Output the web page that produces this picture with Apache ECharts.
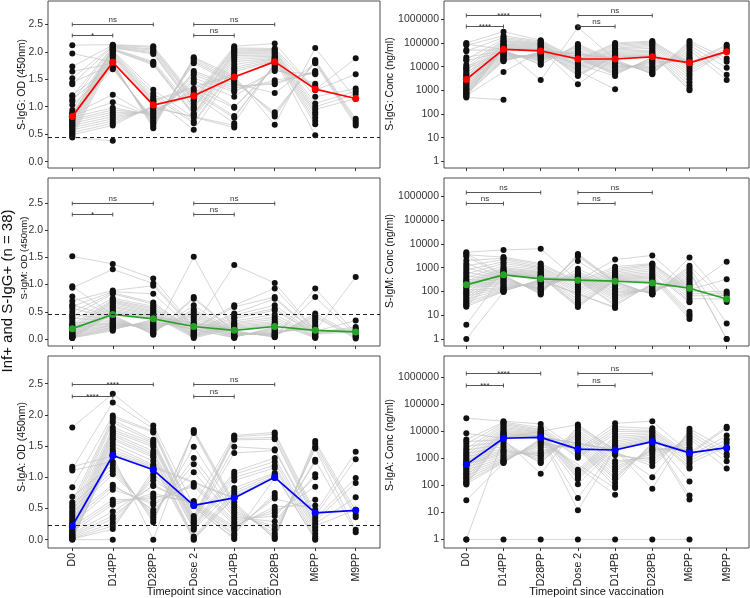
<!DOCTYPE html>
<html><head><meta charset="utf-8">
<script src="https://cdn.jsdelivr.net/npm/echarts@6/dist/echarts.min.js"></script>
<style>html,body{margin:0;padding:0;background:#fff}#c{width:750px;height:598px}</style>
</head><body><div id="c"></div>
<script>
// ---------------- DATA ----------------
const timepoints = ['D0','D14PP','D28PP','Dose 2','D14PB','D28PB','M6PP','M9PP'];
const odTicks = [0, 0.5, 1, 1.5, 2, 2.5];
const concTicks = [1, 10, 100, 1000, 10000, 100000, 1000000];
const sigPairs = [[0,1],[0,2],[3,4],[3,5]];
const odSigY = [2.3, 2.5, 2.3, 2.5];
const concSigY = [520000, 1500000, 520000, 1500000];

// each array below: one inner array per timepoint, values in subject order (null = missing)
const iggOD = [
 [2.12,1.97,1.73,1.64,1.52,1.44,1.41,1.21,1.19,1.13,1.10,1.03,0.94,0.89,0.87,0.86,0.85,0.84,0.83,0.81,0.79,0.77,0.76,0.74,0.72,0.70,0.68,0.66,0.65,0.62,0.60,0.58,0.56,0.53,0.51,0.49,0.46,0.44],
 [2.13,1.81,2.12,1.79,2.11,1.77,2.10,1.75,2.09,1.73,2.08,1.71,2.07,1.68,2.06,1.22,2.05,1.08,2.04,0.98,2.03,0.94,2.02,0.90,2.00,0.86,1.98,0.82,1.96,0.78,1.94,0.74,1.92,0.70,1.89,0.66,1.85,0.38],
 [2.10,0.61,2.08,0.64,2.05,0.67,2.03,0.70,2.00,0.72,1.98,0.75,1.96,0.78,1.82,0.80,1.80,0.82,1.78,0.85,1.76,0.87,1.31,0.89,1.24,0.91,1.19,0.93,1.15,0.96,1.12,0.98,1.10,1.00,1.08,1.02,1.06],
 [1.19,1.90,1.15,1.88,1.12,1.85,1.10,1.82,1.05,1.79,1.00,1.65,0.98,1.62,0.95,1.58,0.88,1.52,0.86,1.47,0.84,1.43,0.80,1.33,0.73,1.29,0.70,1.25,0.58,1.21],
 [2.10,1.56,2.07,1.52,2.05,1.48,2.03,1.45,2.00,1.42,1.98,1.38,1.96,1.34,1.93,1.30,1.90,1.27,1.86,1.18,1.82,1.00,1.77,0.98,1.72,0.83,1.68,0.80,1.64,0.70,1.60,0.66,1.57,0.62],
 [2.15,0.67,2.06,0.82,2.04,0.86,2.02,0.90,2.00,1.25,1.98,1.41,1.96,1.44,1.94,1.48,1.92,1.65,1.90,1.68,1.88,1.71,1.87,1.74,1.86,1.76,1.84,1.78,1.83,1.80],
 [1.31,2.07,1.30,1.85,1.18,1.83,1.06,1.81,1.00,1.79,0.95,1.65,0.90,1.63,0.86,1.61,0.80,1.59,0.74,1.42,0.68,1.38,0.48,1.34],
 [1.88,1.14,1.59,0.78,1.33,0.74,1.28,0.70,1.23,0.66,1.15]
];
const iggOD_median = [0.82,1.81,1.03,1.20,1.54,1.82,1.32,1.15];
const iggOD_cutoff = 0.44;
const iggOD_sig = ['*','ns','ns','ns'];

const igmOD = [
 [1.52,0.97,0.94,0.78,0.70,0.63,0.60,0.56,0.50,0.45,0.42,0.38,0.34,0.30,0.27,0.25,0.23,0.21,0.20,0.19,0.18,0.16,0.15,0.13,0.12,0.11,0.10,0.09,0.08,0.07,0.06,0.05,0.05,0.04,0.03,0.03,0.02,0.02],
 [1.38,0.44,1.28,0.42,0.89,0.40,0.87,0.38,0.85,0.36,0.83,0.34,0.75,0.32,0.72,0.30,0.70,0.29,0.68,0.28,0.66,0.26,0.63,0.25,0.60,0.24,0.58,0.22,0.55,0.21,0.52,0.20,0.50,0.18,0.48,0.17,0.46,0.15],
 [1.11,0.08,1.02,0.09,0.98,0.10,0.83,0.12,0.67,0.13,0.64,0.15,0.60,0.17,0.57,0.18,0.55,0.20,0.52,0.22,0.50,0.23,0.48,0.25,0.46,0.27,0.44,0.28,0.42,0.30,0.41,0.32,0.40,0.34,0.39,0.36,0.38],
 [0.22,1.51,0.20,0.77,0.18,0.74,0.16,0.62,0.14,0.55,0.13,0.52,0.12,0.48,0.10,0.45,0.09,0.42,0.08,0.38,0.07,0.34,0.06,0.30,0.05,0.28,0.04,0.26,0.02,0.24],
 [1.36,0.15,0.62,0.14,0.59,0.13,0.47,0.12,0.44,0.11,0.40,0.10,0.37,0.09,0.33,0.08,0.30,0.07,0.28,0.07,0.26,0.06,0.24,0.05,0.22,0.05,0.20,0.04,0.19,0.03,0.18,0.03,0.17,0.02],
 [1.03,0.03,0.93,0.04,0.77,0.05,0.74,0.06,0.62,0.07,0.56,0.08,0.53,0.09,0.45,0.10,0.40,0.11,0.36,0.12,0.32,0.14,0.29,0.16,0.27,0.18,0.25,0.20,0.24,0.22],
 [0.15,0.93,0.14,0.77,0.12,0.47,0.11,0.43,0.10,0.40,0.09,0.36,0.08,0.32,0.06,0.28,0.05,0.24,0.04,0.20,0.03,0.18,0.02,0.17],
 [1.14,0.10,0.34,0.07,0.22,0.05,0.19,0.03,0.16,0.01,0.13]
];
const igmOD_median = [0.19,0.45,0.37,0.23,0.16,0.23,0.16,0.13];
const igmOD_cutoff = 0.46;
const igmOD_sig = ['*','ns','ns','ns'];

const igaOD = [
 [1.80,1.17,1.14,1.11,0.84,0.69,0.60,0.56,0.53,0.50,0.46,0.43,0.40,0.37,0.34,0.31,0.28,0.26,0.24,0.21,0.19,0.17,0.15,0.13,0.12,0.10,0.09,0.08,0.07,0.06,0.05,0.04,0.03,0.02,0.02,0.01,0.01,0.00],
 [2.34,1.34,2.20,1.25,1.99,1.20,1.96,1.15,1.92,1.10,1.88,1.05,1.80,0.88,1.76,0.85,1.73,0.80,1.70,0.64,1.67,0.60,1.63,0.56,1.60,0.45,1.55,0.38,1.50,0.33,1.45,0.27,1.41,0.22,1.38,0.17,1.36,0.00],
 [1.83,0.00,1.78,0.28,1.74,0.32,1.72,0.36,1.60,0.40,1.57,0.44,1.55,0.48,1.52,0.56,1.49,0.60,1.42,0.66,1.38,0.70,1.35,0.74,1.32,0.86,1.26,0.88,1.20,0.95,1.18,1.00,1.16,1.05,1.14,1.11,1.13],
 [0.54,1.76,0.38,1.74,0.35,1.71,0.32,1.49,0.30,1.31,0.28,1.21,0.26,1.08,0.23,0.91,0.21,0.88,0.18,0.85,0.16,0.62,0.05,0.59,0.03,0.57,0.01,0.56,0.00,0.55],
 [1.67,0.60,1.65,0.56,1.62,0.52,1.60,0.48,1.49,0.44,1.39,0.40,1.09,0.36,1.05,0.32,1.00,0.28,0.95,0.24,0.83,0.21,0.78,0.18,0.74,0.15,0.70,0.10,0.68,0.07,0.67,0.03,0.66,0.01],
 [1.72,0.01,1.69,0.03,1.64,0.06,1.61,0.10,1.45,0.16,1.43,0.22,1.31,0.29,1.25,0.38,1.19,0.43,1.15,0.48,1.07,0.53,1.05,0.66,1.02,0.70,1.01,0.75,1.00,0.99],
 [0.43,1.58,0.38,1.54,0.34,1.49,0.30,1.46,0.26,1.28,0.22,1.25,0.19,1.05,0.15,1.00,0.10,0.85,0.05,0.64,0.02,0.55,0.00,0.48],
 [1.41,0.46,1.29,0.40,0.99,0.36,0.91,0.16,0.68,0.12,0.48]
];
const igaOD_median = [0.22,1.35,1.12,0.55,0.67,1.00,0.43,0.47];
const igaOD_cutoff = 0.23;
const igaOD_sig = ['****','****','ns','ns'];

const iggConc = [
 [1e5,9e4,8e4,5e4,4.5e4,2.5e4,2e4,1.8e4,1.2e4,1e4,9e3,8e3,7e3,6e3,5e3,4.5e3,4e3,3.5e3,3.1e3,2.8e3,2.5e3,2.2e3,2e3,1.8e3,1.6e3,1.5e3,1.3e3,1.2e3,1.1e3,1e3,900,800,750,700,650,600,550,500],
 [3e5,5.3e4,2e5,5e4,1.7e5,4.6e4,1.5e5,4.2e4,1.3e5,4e4,1.2e5,3.7e4,1.1e5,3.5e4,1e5,3.2e4,9e4,3e4,8.5e4,2.8e4,8e4,2.6e4,7.5e4,2.4e4,7e4,2.2e4,6.5e4,2e4,6.2e4,1.9e4,6e4,1.8e4,5.8e4,1.7e4,5.6e4,6e3,5.5e4,400],
 [1.3e5,2.7e3,1.2e5,1.2e4,1.1e5,1.3e4,1e5,1.6e4,9.5e4,1.8e4,9e4,2e4,8.5e4,2.2e4,8e4,2.4e4,7.5e4,2.6e4,7e4,2.8e4,6.5e4,3e4,6e4,3.2e4,5.7e4,3.4e4,5.4e4,3.6e4,5.2e4,3.8e4,5e4,4e4,4.9e4,4.2e4,4.8e4,4.4e4,4.6e4],
 [2e4,4.6e5,1.8e4,9e4,1.6e4,8e4,1.4e4,7e4,1.2e4,6e4,1.1e4,5e4,1e4,4.5e4,9e3,4e4,8e3,3.5e4,7e3,3e4,6e3,2.8e4,5e3,2.6e4,4.5e3,2.4e4,4e3,2.3e4,1.8e3,2.2e4],
 [1e5,2e4,9e4,1.8e4,8e4,1.6e4,7e4,1.5e4,6e4,1.4e4,5.5e4,1.2e4,5e4,1.1e4,4.5e4,1e4,4e4,9e3,3.6e4,8e3,3.3e4,7e3,3e4,6e3,2.8e4,5.5e3,2.6e4,5e3,2.4e4,4.5e3,2.3e4,4e3,2.2e4,1.1e3],
 [1.2e5,4.8e3,1.1e5,5e3,1e5,5.5e3,9e4,6e3,8e4,7e3,7e4,8e3,6e4,9e3,5e4,1e4,4.5e4,1.2e4,4e4,1.4e4,3.5e4,1.6e4,3.2e4,1.8e4,3e4,2e4,2.8e4,2.3e4,2.7e4,2.5e4],
 [1.4e4,1.2e5,1.2e4,1e5,1e4,8e4,8e3,6.5e4,6.5e3,5e4,5e3,4e4,4e3,3.2e4,3e3,2.6e4,2.2e3,2.2e4,1.6e3,1.9e4,1.2e3,1.7e4,1e3,1.55e4],
 [8.5e4,2.2e4,7.5e4,1.6e4,6e4,9e3,5e4,4.5e3,4.5e4,2.7e3,4.3e4]
];
const iggConc_median = [2900,54000,46000,21000,21000,26000,14500,43000];
const iggConc_sig = ['****','****','ns','ns'];

const igmConc = [
 [4500,4000,3500,3000,2000,1500,1200,1000,800,650,550,450,380,320,280,250,230,210,200,185,170,150,130,110,95,85,75,65,55,48,42,36,32,28,25,23,4,1],
 [5600,490,2800,460,2500,420,2200,380,1800,340,1500,300,1200,270,1000,240,900,210,800,190,750,170,700,150,650,140,600,130,580,120,560,110,540,105,520,100,510,95],
 [6300,75,1500,80,1300,90,1100,100,1000,110,900,120,800,130,700,140,650,150,600,170,550,190,500,210,470,230,440,250,420,270,400,290,380,310,360,330,350],
 [290,3800,270,3400,240,3000,200,1900,170,900,140,700,120,600,100,520,80,480,60,440,45,400,35,370,28,340,25,320,22,310],
 [2200,265,1100,250,900,230,750,200,650,170,560,140,500,120,450,100,420,85,390,70,360,60,340,50,320,40,300,30,290,25,280,22,275,20],
 [3300,75,1500,76,1400,78,1300,80,1100,85,900,90,750,95,620,100,520,110,450,125,400,140,350,160,300,180,270,200,250,220],
 [140,2700,120,1200,100,1000,80,800,65,650,50,520,40,420,35,350,14,290,11,240,9,200,7,165],
 [1800,44,330,36,100,4.5,85,1,70,1,48]
];
const igmConc_median = [190,500,340,300,270,230,137,48];
const igmConc_sig = ['ns','ns','ns','ns'];

const igaConc = [
 [31000,8500,5000,4200,3500,2800,2300,2000,1700,1500,1300,1150,1000,900,800,720,660,620,600,580,540,480,420,370,330,290,260,230,200,180,160,140,125,115,108,28,1,1],
 [24000,5600,22000,5000,20000,4200,18000,3500,16000,2800,14000,2300,12500,2000,11000,1800,10000,1600,9200,1400,8500,1200,8000,1050,7500,950,7000,850,6600,800,6300,750,6100,700,5900,680,5800,1],
 [19000,null,14000,270,12000,680,11000,700,10000,850,9500,1000,9000,1200,8500,1300,8000,1500,7500,1700,7000,2000,6800,2500,6600,3000,6400,3500,6300,4000,6200,4500,6150,5000,6100,5500,6000,1],
 [2100,18000,1800,16000,1500,14000,1200,11000,1050,9000,380,8000,320,7000,280,6000,240,5000,200,4000,170,3500,110,3000,34,2600,12,2400,null,2200,null,null,null,null,null,null,null,1],
 [20000,1980,15000,1900,12000,1700,10000,1500,8000,1300,6500,800,5500,650,4500,500,3800,400,3200,330,2800,250,2500,200,2300,170,2200,125,2100,95,2050,80,2020,45,null,null,null,1],
 [24000,75,13000,200,11000,520,10000,700,9000,900,8000,1100,7000,1400,6500,1700,6000,2000,5500,2200,5000,2500,4700,3000,4500,3500,4300,4000,4200,null,null,null,null,null,null,null,null,1],
 [1600,12500,1400,10000,1200,8000,1000,6500,800,5500,650,4500,500,3800,420,3200,140,2600,42,2200,30,2000,1800,null,null,null,null,null,null,null,null,null,null,null,null,null,null,1],
 [15000,2200,13000,1500,7000,1200,5000,780,3800,420,2700]
];
const igaConc_median = [590,5600,6000,2200,2050,4200,1600,2500];
const igaConc_sig = ['***','****','ns','ns'];

// ---------------- LAYOUT / STYLE ----------------
const FONT = '"Liberation Sans", Arial, Helvetica, sans-serif';
const L = {left:48, width:332}, R = {left:444, width:305};
const rows = [{top:1, height:167}, {top:178, height:168}, {top:356, height:192}];
const panels = [
 {vals:iggOD, med:iggOD_median, sig:iggOD_sig, sigY:odSigY, log:false, cut:iggOD_cutoff, color:'#ff0000', ext:[-0.115,2.924], col:L, row:0, title:'S-IgG: OD (450nm)', tx:22, ty:84.5, tfs:10.5},
 {vals:igmOD, med:igmOD_median, sig:igmOD_sig, sigY:odSigY, log:false, cut:igmOD_cutoff, color:'#27a127', ext:[-0.129,2.96], col:L, row:1, title:'S-IgM: OD (450nm)', tx:24, ty:258, tfs:9.5},
 {vals:igaOD, med:igaOD_median, sig:igaOD_sig, sigY:odSigY, log:false, cut:igaOD_cutoff, color:'#0000ff', ext:[-0.133,2.944], col:L, row:2, title:'S-IgA: OD (450nm)', tx:22, ty:447, tfs:10.5},
 {vals:iggConc, med:iggConc_median, sig:iggConc_sig, sigY:concSigY, log:true, color:'#ff0000', ext:[-0.278,6.771], col:R, row:0, title:'S-IgG: Conc (ng/ml)', tx:390, ty:84, tfs:10.5},
 {vals:igmConc, med:igmConc_median, sig:igmConc_sig, sigY:concSigY, log:true, color:'#27a127', ext:[-0.295,6.776], col:R, row:1, title:'S-IgM: Conc (ng/ml)', tx:390, ty:261, tfs:10.5},
 {vals:igaConc, med:igaConc_median, sig:igaConc_sig, sigY:concSigY, log:true, color:'#0000ff', ext:[-0.319,6.795], col:R, row:2, title:'S-IgA: Conc (ng/ml)', tx:390, ty:445, tfs:10.5}
];

const grids = [], xAxes = [], yAxes = [], series = [], graphics = [];
const tickIdx = timepoints.map((_, i) => i);

panels.forEach((p, pi) => {
  const tf = p.log ? (v => Math.log10(v)) : (v => v);
  grids.push({left:p.col.left, width:p.col.width, top:rows[p.row].top, height:rows[p.row].height,
    show:true, borderColor:'#4d4d4d', borderWidth:1, backgroundColor:'transparent', containLabel:false});
  xAxes.push({type:'value', gridIndex:pi, min:-0.6, max:7.6, position:'bottom',
    axisLine:{show:false, onZero:false}, splitLine:{show:false},
    axisTick:{show:true, length:3, customValues:tickIdx, lineStyle:{color:'#333', width:1}},
    axisLabel:{show:p.row===2, customValues:tickIdx, rotate:90, margin:5, fontSize:10.5, color:'#1a1a1a', fontFamily:FONT,
      formatter:v => timepoints[Math.round(v)]}});
  const yt = p.log ? concTicks.map(v => Math.log10(v)) : odTicks;
  yAxes.push({type:'value', gridIndex:pi, min:p.ext[0], max:p.ext[1], position:'left',
    axisLine:{show:false, onZero:false}, splitLine:{show:false},
    axisTick:{show:true, length:3, customValues:yt, lineStyle:{color:'#333', width:1}},
    axisLabel:{customValues:yt, margin:5, fontSize:10.5, color:'#333', fontFamily:FONT,
      formatter: p.log ? (v => String(Math.round(Math.pow(10, v)))) : (v => Number(v).toFixed(1))}});

  // subject lines
  const nSub = Math.max(...p.vals.map(a => a.length));
  for (let s = 0; s < nSub; s++) {
    const d = [];
    p.vals.forEach((arr, t) => { const v = arr[s]; if (v !== null && v !== undefined) d.push([t, tf(v)]); });
    if (d.length > 1) series.push({type:'line', xAxisIndex:pi, yAxisIndex:pi, data:d, symbol:'none', silent:true,
      animation:false, z:1, lineStyle:{color:'#c4c4c4', width:0.7}});
  }
  // dots
  const pts = [];
  p.vals.forEach((arr, t) => arr.forEach(v => { if (v !== null && v !== undefined) pts.push([t, tf(v)]); }));
  const sc = {type:'scatter', xAxisIndex:pi, yAxisIndex:pi, data:pts, symbolSize:6, silent:true, animation:false, z:2,
    itemStyle:{color:'#111', opacity:1}};
  if (!p.log) sc.markLine = {silent:true, symbol:'none', animation:false, label:{show:false},
    lineStyle:{color:'#222', type:[4,3], width:1}, data:[{yAxis:p.cut}]};
  series.push(sc);
  // median
  series.push({type:'line', xAxisIndex:pi, yAxisIndex:pi, data:p.med.map((v, t) => [t, tf(v)]), symbol:'circle',
    symbolSize:7, silent:true, animation:false, z:3, itemStyle:{color:p.color}, lineStyle:{color:p.color, width:1.7}});
  // significance brackets
  const labels = p.sig;
  series.push({type:'custom', xAxisIndex:pi, yAxisIndex:pi, silent:true, animation:false, clip:false, z:4,
    data:sigPairs.map((pr, k) => [pr[0], pr[1], tf(p.sigY[k]), k]),
    encode:{x:[0,1], y:2},
    renderItem:(params, api) => {
      const y = api.value(2), k = api.value(3);
      const a = api.coord([api.value(0), y]), b = api.coord([api.value(1), y]);
      const yy = Math.round(a[1]) + 0.5;
      const lab = labels[k];
      const star = lab.indexOf('*') >= 0;
      const st = {stroke:'#444', lineWidth:0.9};
      return {type:'group', children:[
        {type:'line', shape:{x1:a[0], y1:yy, x2:b[0], y2:yy}, style:st},
        {type:'line', shape:{x1:a[0], y1:yy-2, x2:a[0], y2:yy+2}, style:st},
        {type:'line', shape:{x1:b[0], y1:yy-2, x2:b[0], y2:yy+2}, style:st},
        {type:'text', x:(a[0]+b[0])/2, y: star ? yy+4 : yy-1,
          style:{text:lab, fontSize:8, fill:'#333', align:'center', verticalAlign:'bottom', fontFamily:FONT}}
      ]};
    }});
  graphics.push({type:'text', x:p.tx, y:p.ty, rotation:Math.PI/2,
    style:{text:p.title, fontSize:p.tfs, fill:'#111', align:'center', verticalAlign:'middle', fontFamily:FONT}});
});

graphics.push({type:'text', x:8, y:291, rotation:Math.PI/2,
  style:{text:'Inf+ and S-IgG+ (n = 38)', fontSize:15, fill:'#111', align:'center', verticalAlign:'middle', fontFamily:FONT}});
graphics.push({type:'text', x:214, y:592,
  style:{text:'Timepoint since vaccination', fontSize:11, fill:'#111', align:'center', verticalAlign:'middle', fontFamily:FONT}});
graphics.push({type:'text', x:596.5, y:592,
  style:{text:'Timepoint since vaccination', fontSize:11, fill:'#111', align:'center', verticalAlign:'middle', fontFamily:FONT}});

const chart = echarts.init(document.getElementById('c'), null, {renderer:'canvas', width:750, height:598});
chart.setOption({animation:false, backgroundColor:'#fff', grid:grids, xAxis:xAxes, yAxis:yAxes, series:series, graphic:graphics});
</script></body></html>
